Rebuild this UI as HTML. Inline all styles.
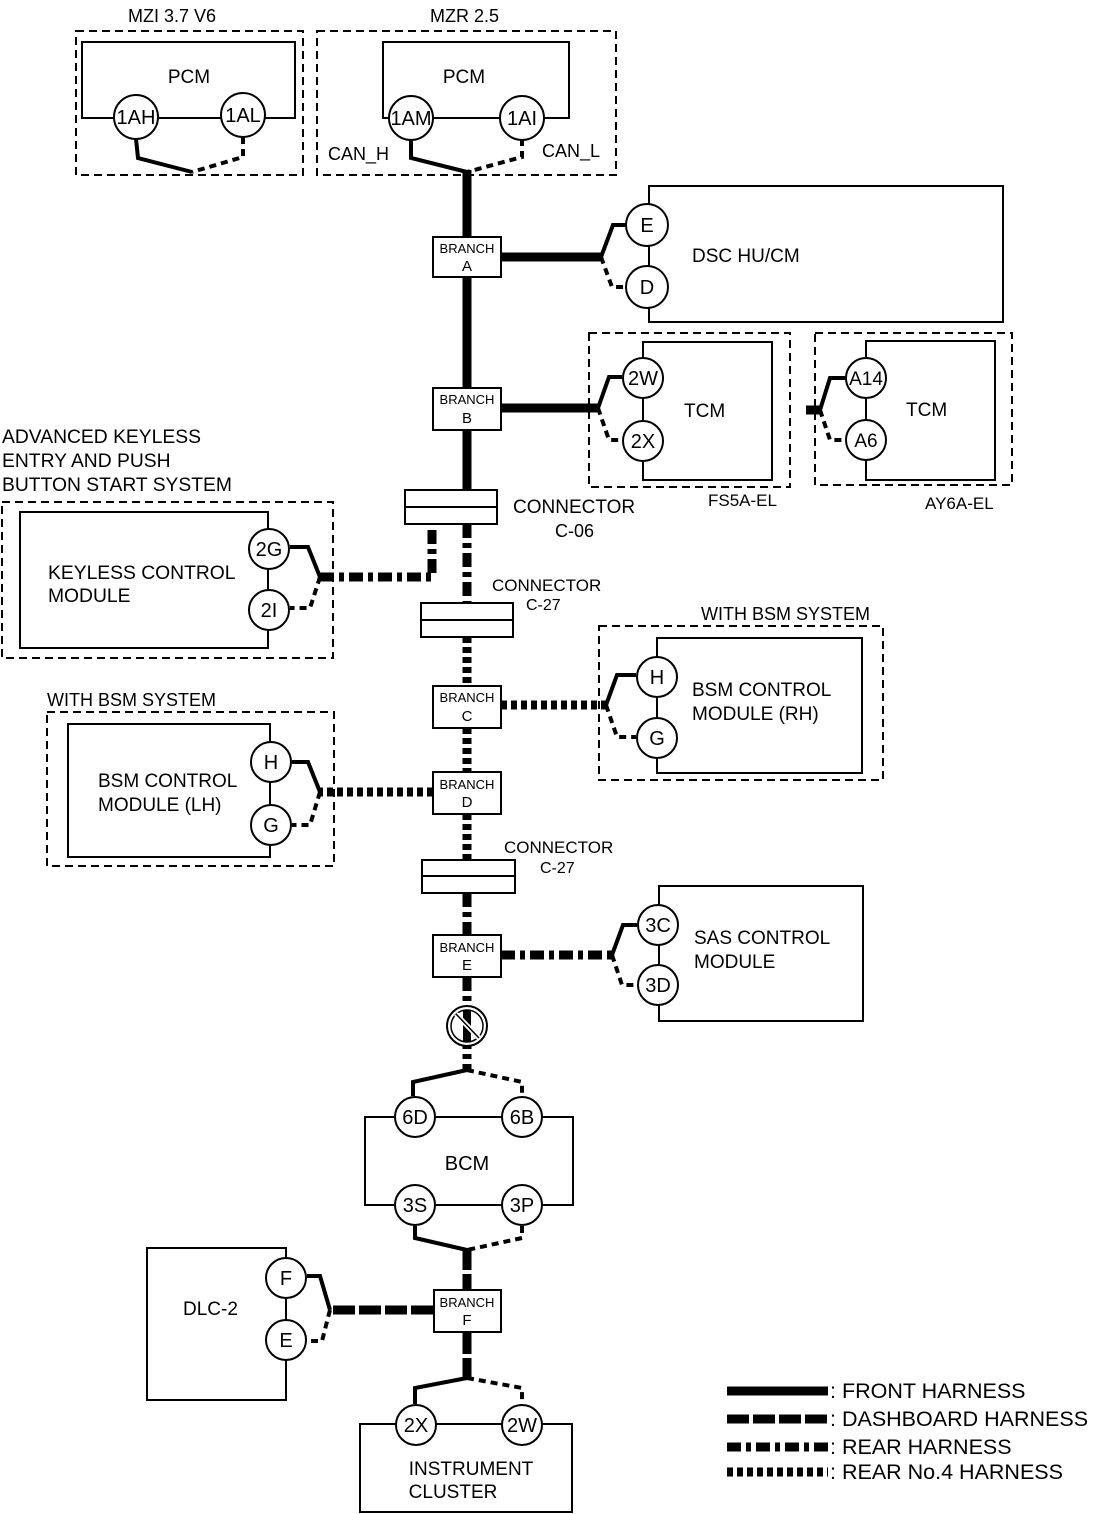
<!DOCTYPE html>
<html><head><meta charset="utf-8"><style>
body{margin:0;background:#fff}
svg{display:block}
text{font-family:"Liberation Sans",sans-serif;fill:#000}
.b{fill:none;stroke:#000;stroke-width:2}
.d{fill:none;stroke:#000;stroke-width:2;stroke-dasharray:8,5}
.c{fill:#fff;stroke:#000;stroke-width:2}
.ps{fill:none;stroke:#000;stroke-width:4}
.pd{fill:none;stroke:#000;stroke-width:4;stroke-dasharray:7,5}
.fr{fill:none;stroke:#000;stroke-width:9}
.db{fill:none;stroke:#000;stroke-width:9;stroke-dasharray:22,4}
.rr{fill:none;stroke:#000;stroke-width:9;stroke-dasharray:14,5,5,5}
.r4{fill:none;stroke:#000;stroke-width:9;stroke-dasharray:6,4}
</style></head><body>
<svg width="1112" height="1514" viewBox="0 0 1112 1514">
<!-- TOP -->
<text x="128" y="22" font-size="18">MZI 3.7 V6</text>
<text x="430" y="22" font-size="18">MZR 2.5</text>
<rect class="d" x="76" y="31" width="227" height="144"/>
<rect class="d" x="317" y="31" width="299" height="144"/>
<rect class="b" x="82" y="42" width="213" height="76"/>
<rect class="b" x="383" y="42" width="186" height="76"/>
<text x="189" y="83" font-size="19" text-anchor="middle">PCM</text>
<text x="464" y="83" font-size="19" text-anchor="middle">PCM</text>
<path class="ps" d="M136,139 L138,158 L192,172"/>
<path class="pd" d="M243,137 L243,157 L192,172"/>
<path class="ps" d="M411,139 L411,158 L467,172"/>
<path class="pd" d="M522,139 L522,157 L467,172"/>
<circle class="c" cx="136" cy="117" r="22"/><text x="136" y="124" font-size="20" text-anchor="middle">1AH</text>
<circle class="c" cx="243" cy="115" r="22"/><text x="243" y="122" font-size="20" text-anchor="middle">1AL</text>
<circle class="c" cx="411" cy="118" r="22"/><text x="411" y="125" font-size="20" text-anchor="middle">1AM</text>
<circle class="c" cx="522" cy="118" r="22"/><text x="522" y="125" font-size="20" text-anchor="middle">1AI</text>
<text x="328" y="160" font-size="18">CAN_H</text>
<text x="542" y="157" font-size="18">CAN_L</text>

<!-- trunk -->
<path class="fr" d="M467,170 L467,490"/>
<path class="rr" d="M467,524 L467,603"/>
<path class="r4" d="M467,637 L467,686"/>
<path class="r4" d="M467,728 L467,772"/>
<path class="r4" d="M467,814 L467,860"/>
<path class="rr" d="M467,893 L467,935"/>
<path class="rr" d="M467,977 L467,1072"/>
<path class="db" d="M467,1248 L467,1290"/>
<path class="db" d="M467,1332 L467,1384"/>

<!-- Branch A / DSC -->
<path class="fr" d="M501,257 L601,257"/>
<path class="ps" d="M601,257 L613,225 L626,225"/>
<path class="pd" d="M601,257 L612,287 L626,287"/>
<rect class="b" x="649" y="186" width="354" height="136"/>
<circle class="c" cx="647" cy="225" r="21"/><text x="647" y="232" font-size="20" text-anchor="middle">E</text>
<circle class="c" cx="647" cy="287" r="21"/><text x="647" y="294" font-size="20" text-anchor="middle">D</text>
<text x="692" y="262" font-size="19">DSC HU/CM</text>
<rect class="c" x="433" y="237" width="68" height="40"/>
<text x="467" y="253" font-size="13" text-anchor="middle">BRANCH</text><text x="467" y="271" font-size="15" text-anchor="middle">A</text>

<!-- Branch B / TCM -->
<path class="fr" d="M501,408 L598,408"/>
<path class="ps" d="M598,408 L609,377 L622,377"/>
<path class="pd" d="M598,408 L609,440 L622,440"/>
<rect class="d" x="589" y="333" width="201" height="154"/>
<rect class="b" x="643" y="342" width="129" height="138"/>
<circle class="c" cx="643" cy="378" r="20"/><text x="643" y="385" font-size="20" text-anchor="middle">2W</text>
<circle class="c" cx="643" cy="441" r="20"/><text x="643" y="448" font-size="20" text-anchor="middle">2X</text>
<text x="684" y="417" font-size="19">TCM</text>
<text x="708" y="506" font-size="17">FS5A-EL</text>
<rect class="d" x="815" y="333" width="197" height="152"/>
<rect class="b" x="866" y="341" width="129" height="139"/>
<path class="fr" d="M806,410 L820,410"/>
<path class="ps" d="M820,410 L830,378 L845,378"/>
<path class="pd" d="M820,410 L830,440 L845,440"/>
<circle class="c" cx="866" cy="378" r="20"/><text x="866" y="385" font-size="19" text-anchor="middle">A14</text>
<circle class="c" cx="866" cy="440" r="20"/><text x="866" y="447" font-size="19" text-anchor="middle">A6</text>
<text x="906" y="416" font-size="19">TCM</text>
<text x="925" y="509" font-size="17">AY6A-EL</text>
<rect class="c" x="433" y="388" width="68" height="42"/>
<text x="467" y="404" font-size="13" text-anchor="middle">BRANCH</text><text x="467" y="423" font-size="15" text-anchor="middle">B</text>

<!-- C-06 / Keyless -->
<rect class="c" x="405" y="490" width="92" height="34"/><line class="b" x1="405" y1="507" x2="497" y2="507"/>
<text x="513" y="513" font-size="19">CONNECTOR</text><text x="555" y="537" font-size="18">C-06</text>
<text x="2" y="443" font-size="19.3">ADVANCED KEYLESS</text>
<text x="2" y="467" font-size="19.3">ENTRY AND PUSH</text>
<text x="2" y="491" font-size="19.3">BUTTON START SYSTEM</text>
<rect class="d" x="2" y="502" width="331" height="156"/>
<rect class="b" x="20" y="512" width="248" height="136"/>
<path class="rr" d="M320,577 L432,577 L432,524"/>
<path class="ps" d="M320,577 L308,547 L290,547"/>
<path class="pd" d="M320,577 L310,608 L290,608"/>
<circle class="c" cx="269" cy="549" r="20"/><text x="269" y="556" font-size="20" text-anchor="middle">2G</text>
<circle class="c" cx="269" cy="610" r="20"/><text x="269" y="617" font-size="20" text-anchor="middle">2I</text>
<text x="48" y="579" font-size="19.3">KEYLESS CONTROL</text><text x="48" y="602" font-size="19.3">MODULE</text>

<!-- C-27 -->
<rect class="c" x="421" y="603" width="92" height="34"/><line class="b" x1="421" y1="620" x2="513" y2="620"/>
<text x="492" y="591" font-size="17">CONNECTOR</text><text x="526" y="610" font-size="16">C-27</text>

<!-- Branch C / BSM RH -->
<path class="r4" d="M501,705 L606,705"/>
<path class="ps" d="M606,705 L617,675 L636,675"/>
<path class="pd" d="M606,705 L617,737 L636,737"/>
<text x="701" y="620" font-size="18">WITH BSM SYSTEM</text>
<rect class="d" x="599" y="626" width="284" height="154"/>
<rect class="b" x="657" y="638" width="205" height="135"/>
<circle class="c" cx="657" cy="677" r="20"/><text x="657" y="684" font-size="20" text-anchor="middle">H</text>
<circle class="c" cx="657" cy="738" r="20"/><text x="657" y="745" font-size="20" text-anchor="middle">G</text>
<text x="692" y="696" font-size="19">BSM CONTROL</text><text x="692" y="720" font-size="19">MODULE (RH)</text>
<rect class="c" x="433" y="686" width="68" height="42"/>
<text x="467" y="702" font-size="13" text-anchor="middle">BRANCH</text><text x="467" y="721" font-size="15" text-anchor="middle">C</text>

<!-- Branch D / BSM LH -->
<path class="r4" d="M433,792 L320,792"/>
<path class="ps" d="M320,792 L308,762 L292,762"/>
<path class="pd" d="M320,792 L310,825 L292,825"/>
<text x="47" y="706" font-size="18">WITH BSM SYSTEM</text>
<rect class="d" x="47" y="712" width="287" height="154"/>
<rect class="b" x="68" y="724" width="202" height="133"/>
<circle class="c" cx="271" cy="762" r="20"/><text x="271" y="769" font-size="20" text-anchor="middle">H</text>
<circle class="c" cx="271" cy="825" r="20"/><text x="271" y="832" font-size="20" text-anchor="middle">G</text>
<text x="98" y="787" font-size="19">BSM CONTROL</text><text x="98" y="811" font-size="19">MODULE (LH)</text>
<rect class="c" x="433" y="772" width="68" height="42"/>
<text x="467" y="789" font-size="13" text-anchor="middle">BRANCH</text><text x="467" y="807" font-size="15" text-anchor="middle">D</text>

<!-- C-27 second -->
<rect class="c" x="422" y="860" width="93" height="33"/><line class="b" x1="422" y1="876" x2="515" y2="876"/>
<text x="504" y="853" font-size="17">CONNECTOR</text><text x="540" y="873" font-size="16">C-27</text>

<!-- Branch E / SAS -->
<path class="rr" d="M501,955 L612,955"/>
<path class="ps" d="M612,955 L623,925 L637,925"/>
<path class="pd" d="M612,955 L622,985 L637,985"/>
<rect class="b" x="659" y="886" width="204" height="135"/>
<circle class="c" cx="658" cy="925" r="20"/><text x="658" y="932" font-size="20" text-anchor="middle">3C</text>
<circle class="c" cx="658" cy="985" r="20"/><text x="658" y="992" font-size="20" text-anchor="middle">3D</text>
<text x="694" y="944" font-size="19">SAS CONTROL</text><text x="694" y="968" font-size="19">MODULE</text>
<rect class="c" x="433" y="935" width="68" height="42"/>
<text x="467" y="952" font-size="13" text-anchor="middle">BRANCH</text><text x="467" y="970" font-size="15" text-anchor="middle">E</text>

<!-- no symbol -->
<circle cx="467" cy="1026" r="20" fill="#fff" stroke="#000" stroke-width="2"/>
<circle cx="467" cy="1026" r="16" fill="none" stroke="#000" stroke-width="1.5"/>
<line x1="467" y1="1010" x2="467" y2="1042" stroke="#000" stroke-width="8"/>
<line x1="456" y1="1014" x2="479" y2="1038" stroke="#fff" stroke-width="5"/>
<line x1="456" y1="1014" x2="479" y2="1038" stroke="#000" stroke-width="1.5"/>

<!-- BCM -->
<path class="ps" d="M467,1070 L413,1082 L413,1096"/>
<path class="pd" d="M467,1070 L522,1082 L522,1096"/>
<rect class="b" x="365" y="1117" width="208" height="88"/>
<circle class="c" cx="415" cy="1117" r="20"/><text x="415" y="1124" font-size="20" text-anchor="middle">6D</text>
<circle class="c" cx="522" cy="1117" r="20"/><text x="522" y="1124" font-size="20" text-anchor="middle">6B</text>
<text x="467" y="1170" font-size="20" text-anchor="middle">BCM</text>
<circle class="c" cx="415" cy="1205" r="20"/><text x="415" y="1212" font-size="20" text-anchor="middle">3S</text>
<circle class="c" cx="522" cy="1205" r="20"/><text x="522" y="1212" font-size="20" text-anchor="middle">3P</text>
<path class="ps" d="M415,1226 L415,1238 L467,1250"/>
<path class="pd" d="M522,1226 L522,1238 L467,1250"/>

<!-- DLC / Branch F -->
<rect class="b" x="147" y="1248" width="139" height="152"/>
<path class="db" d="M433,1310 L330,1310"/>
<path class="ps" d="M330,1310 L320,1276 L307,1276"/>
<path class="pd" d="M330,1310 L322,1341 L307,1341"/>
<circle class="c" cx="286" cy="1278" r="20"/><text x="286" y="1285" font-size="20" text-anchor="middle">F</text>
<circle class="c" cx="286" cy="1340" r="20"/><text x="286" y="1347" font-size="20" text-anchor="middle">E</text>
<text x="183" y="1315" font-size="19">DLC-2</text>
<rect class="c" x="434" y="1290" width="67" height="42"/>
<text x="467" y="1307" font-size="13" text-anchor="middle">BRANCH</text><text x="467" y="1325" font-size="15" text-anchor="middle">F</text>

<!-- IC -->
<path class="ps" d="M467,1378 L415,1388 L415,1404"/>
<path class="pd" d="M467,1378 L522,1388 L522,1404"/>
<rect class="b" x="360" y="1424" width="212" height="88"/>
<circle class="c" cx="416" cy="1425" r="20"/><text x="416" y="1432" font-size="20" text-anchor="middle">2X</text>
<circle class="c" cx="522" cy="1425" r="20"/><text x="522" y="1432" font-size="20" text-anchor="middle">2W</text>
<text x="471" y="1475" font-size="19" text-anchor="middle">INSTRUMENT</text>
<text x="453" y="1498" font-size="19" text-anchor="middle">CLUSTER</text>

<!-- Legend -->
<line class="fr" x1="727" y1="1391" x2="828" y2="1391"/>
<line class="db" x1="727" y1="1419" x2="828" y2="1419"/>
<line class="rr" x1="727" y1="1447" x2="828" y2="1447"/>
<line class="r4" x1="727" y1="1472" x2="828" y2="1472"/>
<text x="830" y="1398" font-size="21.5">: FRONT HARNESS</text>
<text x="830" y="1426" font-size="21.5">: DASHBOARD HARNESS</text>
<text x="830" y="1454" font-size="21.5">: REAR HARNESS</text>
<text x="830" y="1479" font-size="21.5">: REAR No.4 HARNESS</text>
</svg>
</body></html>
